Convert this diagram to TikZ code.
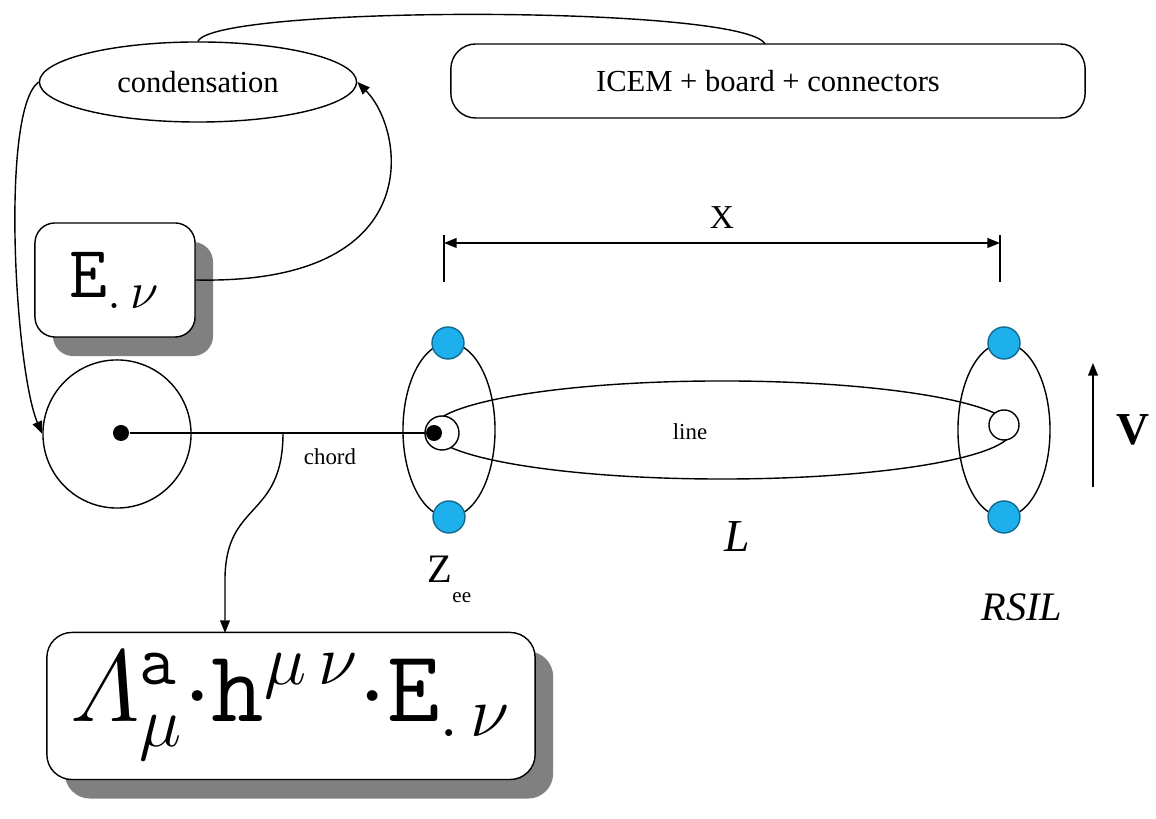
\RequirePackage{fix-cm}
\documentclass[tikz,border=0pt]{standalone}
\usepackage{amsmath}
\usepackage{fontspec}
\setmainfont{Liberation Serif}
\usetikzlibrary{arrows.meta, shapes.geometric, shadows}
\definecolor{portblue}{RGB}{30,176,236}
\definecolor{shadowgray}{RGB}{128,128,128}

\begin{document}
\begin{tikzpicture}[
    x=0.01cm, y=0.01cm,
    >={Triangle[length=3.6pt, width=2.8pt]},
    oval/.style={ellipse, draw, inner sep=0pt},
    pill/.style={rectangle, draw, rounded corners=0.25cm, inner sep=0pt},
    shadowbox/.style={rectangle, draw, fill=white, rounded corners=0.2cm, inner sep=0pt,
      drop shadow={shadow xshift=0.18cm, shadow yshift=-0.19cm, fill=shadowgray, opacity=1}},
    port/.style={circle, draw=portblue!60!black, fill=portblue, minimum size=0.32cm, inner sep=0pt},
    hole/.style={circle, draw, fill=white, inner sep=0pt},
    dot/.style={circle, fill, minimum size=0.16cm, inner sep=0pt},
    lbl/.style={font=\fontsize{8.7}{10}\selectfont},
    small/.style={font=\fontsize{6.5}{8}\selectfont}
  ]
    \useasboundingbox (0,0) rectangle (1156,-819);

    % Top blocks
    \node[oval, lbl, minimum width=3.17cm, minimum height=0.8cm] (cond) at (198,-82) {condensation};
    \node[pill, lbl, minimum width=6.34cm, minimum height=0.74cm] (icem) at (768,-81) {ICEM + board + connectors};
    \draw (cond.north) .. controls (215,-5) and (745,-5) .. (765,-44);

    % Field boxes
    \node[shadowbox, minimum width=1.6cm, minimum height=1.14cm, font=\fontsize{21}{24}\selectfont] (ebox) at (115,-280) {$\mathtt{E}_{.\,\nu}$};
    \node[shadowbox, rounded corners=0.25cm, minimum width=4.88cm, minimum height=1.47cm, font=\fontsize{29}{33}\selectfont] (formula) at (291,-706)
      {$\varLambda^{\mathtt{a}}_{\mu}{\cdot}\mathtt{h}^{\mu\,\nu}{\cdot}\mathtt{E}_{.\,\nu}$};

    % Source and line
    \node[circle, draw, minimum size=1.48cm, inner sep=0pt] (src) at (117,-434) {};
    \node[dot] (srcdot) at (121,-433) {};
    \node[oval, minimum width=0.92cm, minimum height=1.74cm] (zee) at (449,-430) {};
    \node[oval, minimum width=0.92cm, minimum height=1.74cm] (rsil) at (1004,-430) {};
    \node[oval, minimum width=5.8cm, minimum height=0.98cm] (line) at (722,-430) {};
    \node[hole, minimum size=0.34cm] (zin) at (442,-433) {};
    \node[dot] (zdot) at (434,-433) {};
    \node[hole, minimum size=0.3cm] (rin) at (1004,-425) {};
    \node[port] (zt) at (448,-343) {};
    \node[port] (zb) at (449,-517) {};
    \node[port] (rt) at (1004,-343) {};
    \node[port] (rb) at (1004,-517) {};
    \draw (srcdot) -- (zdot);

    % Labels
    \node[small] (linelbl) at (690,-432) {line};
    \node[small] (chordlbl) at (330,-457) {chord};
    \node[font=\fontsize{13}{15}\selectfont\itshape] (Llbl) at (737,-537) {L};
    \node[font=\fontsize{11.5}{14}\selectfont\itshape] (rsillbl) at (1022,-607) {RSIL};
    \node[anchor=base west, inner sep=0pt, font=\fontsize{11.5}{14}\selectfont] (zeelbl) at (427,-583)
      {Z\raisebox{-0.2cm}{\fontsize{6}{7}\selectfont ee}};

    % Dimension x
    \coordinate (xa) at (444,-243);
    \coordinate (xb) at (1000,-243);
    \draw (444,-235) -- (444,-282);
    \draw (1000,-235) -- (1000,-282);
    \draw[<->] (xa) -- (xb);
    \node[font=\fontsize{9.5}{11}\selectfont] (xlbl) at (722,-218) {X};

    % Voltage
    \coordinate (vlo) at (1093,-487);
    \coordinate (vhi) at (1093,-363);
    \draw[->] (vlo) -- (vhi);
    \node[font=\fontsize{13}{15}\selectfont\bfseries] (vlbl) at (1133,-430) {V};

    % Connectors
    \draw[->] (ebox.east) .. controls (430,-285) and (405,-130) .. (cond.east);
    \draw[->] (cond.west) .. controls (0,-110) and (15,-370) .. (src.west);
    \coordinate (tap) at (283,-433);
    \coordinate (fin) at (225,-633);
    \draw[->] (tap) .. controls (283,-520) and (225,-500) .. (225,-580) -- (fin);
\end{tikzpicture}
\end{document}
